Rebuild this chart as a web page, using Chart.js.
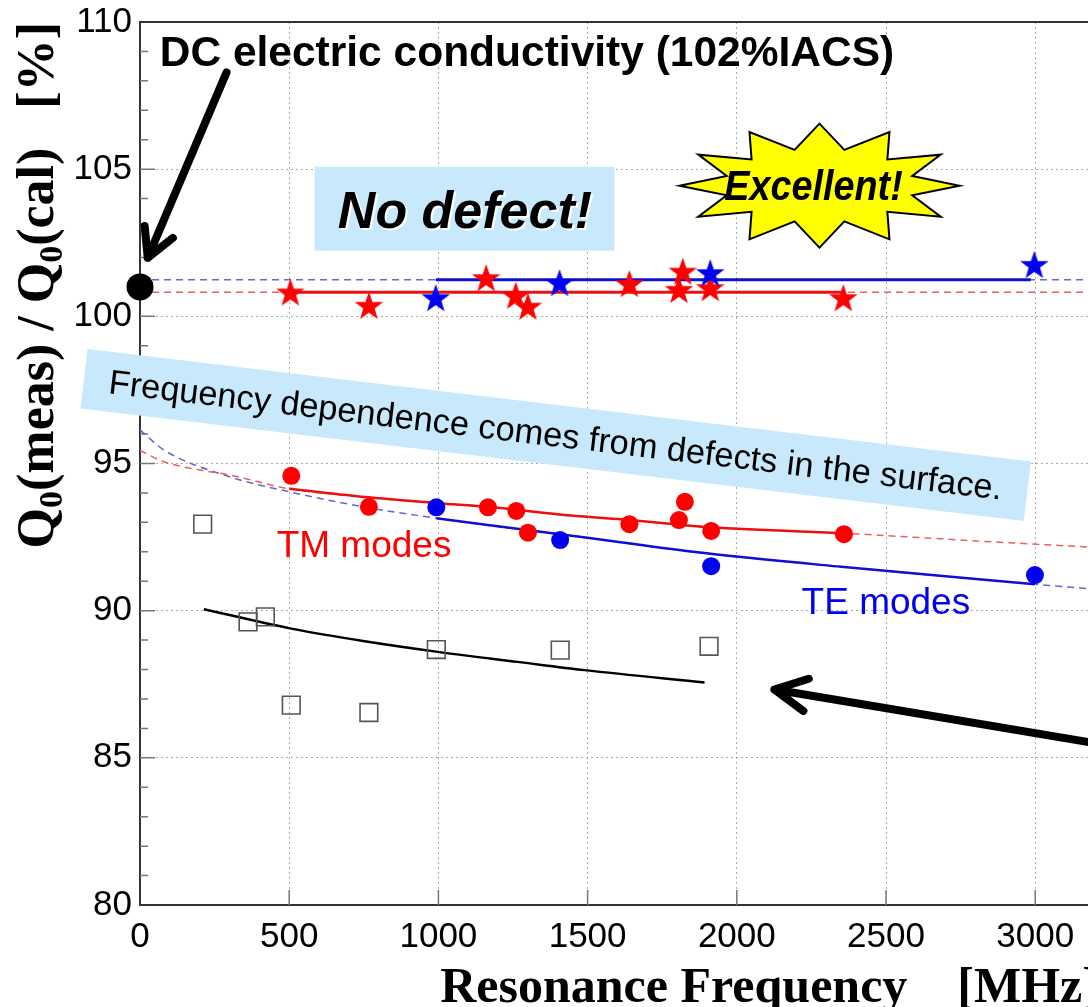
<!DOCTYPE html>
<html>
<head>
<meta charset="utf-8">
<script src="https://cdn.jsdelivr.net/npm/chart.js@4.4.1/dist/chart.umd.min.js"></script>
<style>
  html, body { margin: 0; padding: 0; background: #fff; overflow: hidden; }
  #wrap { width: 1109px; height: 1007px; position: relative; }
  canvas { display: block; }
</style>
</head>
<body>
<div id="wrap"><canvas id="chart" width="1109" height="1007"></canvas></div>
<script>
// DC conductivity point (102%IACS)
const dcFreq = [0];
const dcQ = [101.0];

// stars: measured after the good finish (no defect)
const tmStarFreq = [504, 767, 1160, 1259, 1300, 1640, 1806, 1819, 1911, 2357];
const tmStarQ = [100.81, 100.36, 101.30, 100.70, 100.33, 101.10, 100.90, 101.52, 100.96, 100.62];
const teStarFreq = [991, 1406, 1911, 2997];
const teStarQ = [100.62, 101.13, 101.47, 101.75];

// filled circles: TM / TE modes with surface defects
const tmDotFreq = [507, 767, 1166, 1261, 1300, 1640, 1806, 1826, 1914, 2359];
const tmDotQ = [94.58, 93.53, 93.51, 93.39, 92.65, 92.94, 93.08, 93.70, 92.71, 92.60];
const teDotFreq = [993, 1408, 1914, 2999];
const teDotQ = [93.51, 92.40, 91.51, 91.21];

// open squares
const sqFreq = [210, 362, 420, 507, 767, 993, 1408, 1907];
const sqQ = [92.94, 89.62, 89.79, 86.79, 86.54, 88.68, 88.66, 88.79];

const tmFitFreq = [0, 80, 200, 300, 500, 767, 1000, 1166, 1406, 1640, 1914, 2360, 2800, 3200];
const tmFitQ = [95.44, 95.06, 94.78, 94.61, 94.14, 93.85, 93.65, 93.53, 93.27, 93.08, 92.83, 92.63, 92.37, 92.15];
const tmFitSpan = [500, 2360];
const teFitFreq = [0, 80, 300, 500, 747, 993, 1473, 1853, 2350, 2999, 3200];
const teFitQ = [96.14, 95.46, 94.55, 94.04, 93.53, 93.14, 92.51, 92.00, 91.49, 90.90, 90.73];
const teFitSpan = [993, 2999];
const sqFitFreq = [214, 507, 753, 998, 1266, 1490, 1892];
const sqFitQ = [90.05, 89.39, 88.96, 88.60, 88.26, 87.98, 87.56];

// flat levels of the star data
const tmLevel = 100.82;
const teLevel = 101.24;
const tmLevelSpan = [495, 2357];
const teLevelSpan = [991, 2985];

const xTicks = [0, 500, 1000, 1500, 2000, 2500, 3000];
const yTicks = [80, 85, 90, 95, 100, 105, 110];

const sans = '"Liberation Sans", Arial, sans-serif';
const serif = '"Liberation Serif", "Times New Roman", serif';
const RED = '#ff0000', BLUE = '#0000f0', BOXBLUE = '#c8e9fb';

const pts = (xs, ys) => xs.map((v, i) => ({ x: v, y: ys[i] }));
const span = (xs, ys, s) => pts(xs, ys).filter(p => p.x >= s[0] && p.x <= s[1]);

function makeStar(color) {
  const c = document.createElement('canvas');
  c.width = 32; c.height = 32;
  const g = c.getContext('2d');
  g.beginPath();
  for (let i = 0; i < 10; i++) {
    const r = i % 2 === 0 ? 15 : 6;
    const a = -Math.PI / 2 + i * Math.PI / 5;
    g.lineTo(16 + r * Math.cos(a), 17 + r * Math.sin(a));
  }
  g.closePath();
  g.fillStyle = color;
  g.fill();
  return c;
}

function arrow(ctx, x1, y1, x2, y2, head, half) {
  const a = Math.atan2(y2 - y1, x2 - x1);
  ctx.beginPath();
  ctx.moveTo(x1, y1);
  ctx.lineTo(x2, y2);
  ctx.moveTo(x2 - head * Math.cos(a - half), y2 - head * Math.sin(a - half));
  ctx.lineTo(x2, y2);
  ctx.lineTo(x2 - head * Math.cos(a + half), y2 - head * Math.sin(a + half));
  ctx.stroke();
}

const decor = {
  id: 'decor',
  beforeDatasetsDraw(chart) {
    const { ctx, chartArea: a, scales: { x, y } } = chart;
    ctx.save();
    // frame top
    ctx.strokeStyle = '#333';
    ctx.lineWidth = 2;
    ctx.beginPath();
    ctx.moveTo(a.left, a.top);
    ctx.lineTo(a.right, a.top);
    ctx.stroke();
    // inward tick marks
    ctx.strokeStyle = '#777';
    ctx.lineWidth = 1.5;
    ctx.beginPath();
    for (let v = 81; v < 110; v++) {
      const len = v % 5 === 0 ? 15 : 8;
      const py = y.getPixelForValue(v);
      ctx.moveTo(a.left, py);
      ctx.lineTo(a.left + len, py);
    }
    xTicks.slice(1).forEach(f => {
      const px = x.getPixelForValue(f);
      ctx.moveTo(px, a.bottom);
      ctx.lineTo(px, a.bottom - 15);
    });
    ctx.stroke();

    // "No defect!" box
    const bx0 = x.getPixelForValue(585), bx1 = x.getPixelForValue(1590);
    const by0 = y.getPixelForValue(105.08), by1 = y.getPixelForValue(102.23);
    ctx.fillStyle = BOXBLUE;
    ctx.fillRect(bx0, by0, bx1 - bx0, by1 - by0);
    ctx.font = 'italic bold 52px ' + sans;
    ctx.textAlign = 'center';
    ctx.textBaseline = 'alphabetic';
    const nx = x.getPixelForValue(1089), ny = y.getPixelForValue(103.01);
    ctx.fillStyle = '#fff';
    ctx.fillText('No defect!', nx + 2, ny + 2);
    ctx.fillStyle = '#000';
    ctx.fillText('No defect!', nx, ny);

    // tilted comment box
    ctx.save();
    ctx.translate(x.getPixelForValue(1393), y.getPixelForValue(95.97));
    ctx.rotate(6.8 * Math.PI / 180);
    ctx.fillStyle = BOXBLUE;
    ctx.fillRect(-475, -30, 950, 60);
    ctx.fillStyle = '#000';
    ctx.font = '34.5px ' + sans;
    ctx.textBaseline = 'middle';
    ctx.fillText('Frequency dependence comes from defects in the surface.', 0, 2);
    ctx.restore();
    ctx.restore();
  },
  afterDatasetsDraw(chart) {
    const { ctx, scales: { x, y } } = chart;
    ctx.save();
    ctx.fillStyle = '#000';
    ctx.font = 'bold 42.5px ' + sans;
    ctx.textAlign = 'left';
    ctx.textBaseline = 'alphabetic';
    ctx.fillText('DC electric conductivity (102%IACS)', x.getPixelForValue(66), y.getPixelForValue(108.49));

    ctx.strokeStyle = '#000';
    ctx.lineWidth = 8;
    ctx.lineCap = 'round';
    ctx.lineJoin = 'round';
    arrow(ctx, x.getPixelForValue(290), y.getPixelForValue(108.29),
      x.getPixelForValue(26), y.getPixelForValue(101.99), 32, 0.5);
    arrow(ctx, x.getPixelForValue(3382), y.getPixelForValue(85.19),
      x.getPixelForValue(2126), y.getPixelForValue(87.32), 36, 0.47);

    // starburst
    const cx = x.getPixelForValue(2277), cy = y.getPixelForValue(104.44);
    ctx.beginPath();
    for (let i = 0; i < 24; i++) {
      const a = -Math.PI / 2 + i * Math.PI / 12;
      const rx = i % 2 === 0 ? 140 : 96, ry = i % 2 === 0 ? 62 : 37;
      ctx.lineTo(cx + rx * Math.cos(a), cy + ry * Math.sin(a));
    }
    ctx.closePath();
    ctx.fillStyle = '#ffff00';
    ctx.fill();
    ctx.lineWidth = 2;
    ctx.lineJoin = 'miter';
    ctx.stroke();
    ctx.save();
    ctx.translate(cx - 6, cy + 14);
    ctx.scale(0.9, 1);
    ctx.fillStyle = '#000';
    ctx.font = 'italic bold 42px ' + sans;
    ctx.textAlign = 'center';
    ctx.fillText('Excellent!', 0, 0);
    ctx.restore();

    ctx.font = '37px ' + sans;
    ctx.textAlign = 'left';
    ctx.fillStyle = RED;
    ctx.fillText('TM modes', x.getPixelForValue(458), y.getPixelForValue(91.82));
    ctx.fillStyle = BLUE;
    ctx.fillText('TE modes', x.getPixelForValue(2217), y.getPixelForValue(89.88));
    ctx.restore();
  },
  afterDraw(chart) {
    const { ctx, chartArea: a } = chart;
    ctx.save();
    ctx.fillStyle = '#000';
    ctx.font = 'bold 50px ' + serif;
    ctx.textAlign = 'right';
    ctx.textBaseline = 'alphabetic';
    ctx.fillText('Resonance Frequency    [MHz]', a.right + 4, 1002);

    // y title with subscripts, right-aligned to top of axis
    const big = 'bold 52px ' + serif, small = 'bold 34px ' + serif;
    const parts = [
      ['Q', big, 0], ['0', small, 9], ['(meas) / Q', big, 0], ['0', small, 9], ['(cal)   [%]', big, 0]
    ];
    let w = 0;
    parts.forEach(p => { ctx.font = p[1]; w += ctx.measureText(p[0]).width; });
    ctx.translate(53, a.top);
    ctx.rotate(-Math.PI / 2);
    ctx.textAlign = 'left';
    let cx = -w;
    parts.forEach(p => {
      ctx.font = p[1];
      ctx.fillText(p[0], cx, p[2]);
      cx += ctx.measureText(p[0]).width;
    });
    ctx.restore();
  }
};

const gridOpts = { color: '#aaa', lineWidth: 1, drawTicks: false, z: -1 };
const borderOpts = { color: '#333', width: 2, dash: [2, 3] };
const tickFont = { family: sans, size: 35 };

new Chart(document.getElementById('chart'), {
  type: 'scatter',
  data: {
    datasets: [
      { data: pts(dcFreq, dcQ), pointRadius: 13.5, backgroundColor: '#000', borderWidth: 0, clip: false, order: 1 },
      { data: pts(tmStarFreq, tmStarQ), pointStyle: makeStar(RED), clip: false, order: 2 },
      { data: pts(teStarFreq, teStarQ), pointStyle: makeStar(BLUE), clip: false, order: 1 },
      { data: pts(tmDotFreq, tmDotQ), pointRadius: 9, backgroundColor: RED, borderWidth: 0, clip: false, order: 2 },
      { data: pts(teDotFreq, teDotQ), pointRadius: 9, backgroundColor: BLUE, borderWidth: 0, clip: false, order: 1 },
      { data: pts(sqFreq, sqQ), pointStyle: 'rect', pointRadius: 12.5, backgroundColor: 'rgba(0,0,0,0)', borderColor: '#555', borderWidth: 1.6, clip: false, order: 3 },

      { data: pts(tmFitFreq, tmFitQ), showLine: true, pointRadius: 0, borderColor: '#e86060', borderWidth: 1.5, borderDash: [7, 5], cubicInterpolationMode: 'monotone', order: 8 },
      { data: pts(teFitFreq, teFitQ), showLine: true, pointRadius: 0, borderColor: '#6565d0', borderWidth: 1.5, borderDash: [7, 5], cubicInterpolationMode: 'monotone', order: 8 },
      { data: span(tmFitFreq, tmFitQ, tmFitSpan), showLine: true, pointRadius: 0, borderColor: '#ee1010', borderWidth: 2.5, cubicInterpolationMode: 'monotone', order: 6 },
      { data: span(teFitFreq, teFitQ, teFitSpan), showLine: true, pointRadius: 0, borderColor: '#1010d0', borderWidth: 2.5, cubicInterpolationMode: 'monotone', order: 6 },
      { data: pts(sqFitFreq, sqFitQ), showLine: true, pointRadius: 0, borderColor: '#000', borderWidth: 2.5, cubicInterpolationMode: 'monotone', order: 6 },

      { data: [{ x: 0, y: tmLevel }, { x: 3200, y: tmLevel }], showLine: true, pointRadius: 0, borderColor: '#e86060', borderWidth: 1.5, borderDash: [7, 5], order: 8 },
      { data: [{ x: 0, y: teLevel }, { x: 3200, y: teLevel }], showLine: true, pointRadius: 0, borderColor: '#6565d0', borderWidth: 1.5, borderDash: [7, 5], order: 8 },
      { data: tmLevelSpan.map(f => ({ x: f, y: tmLevel })), showLine: true, pointRadius: 0, borderColor: '#ee1010', borderWidth: 3, order: 6 },
      { data: teLevelSpan.map(f => ({ x: f, y: teLevel })), showLine: true, pointRadius: 0, borderColor: '#1010d0', borderWidth: 3, order: 6 }
    ]
  },
  options: {
    responsive: false,
    animation: false,
    events: [],
    layout: { padding: { top: 22, right: 5, left: 0, bottom: 0 } },
    plugins: { legend: { display: false }, tooltip: { enabled: false } },
    scales: {
      x: {
        type: 'linear', min: 0, max: 3200,
        afterFit: s => { s.height = 102; s.paddingLeft = 0; s.paddingRight = 0; },
        afterBuildTicks: s => { s.ticks = xTicks.map(v => ({ value: v })); },
        ticks: { autoSkip: false, maxRotation: 0, padding: 11, color: '#000', font: tickFont, callback: v => String(v) },
        grid: gridOpts,
        border: borderOpts
      },
      y: {
        min: 80, max: 110,
        afterFit: s => { s.width = 140; s.paddingTop = 0; s.paddingBottom = 0; },
        afterBuildTicks: s => { s.ticks = yTicks.map(v => ({ value: v })); },
        ticks: { padding: 8, color: '#000', font: tickFont, callback: v => String(v) },
        grid: gridOpts,
        border: borderOpts
      }
    }
  },
  plugins: [decor]
});
</script>
</body>
</html>
